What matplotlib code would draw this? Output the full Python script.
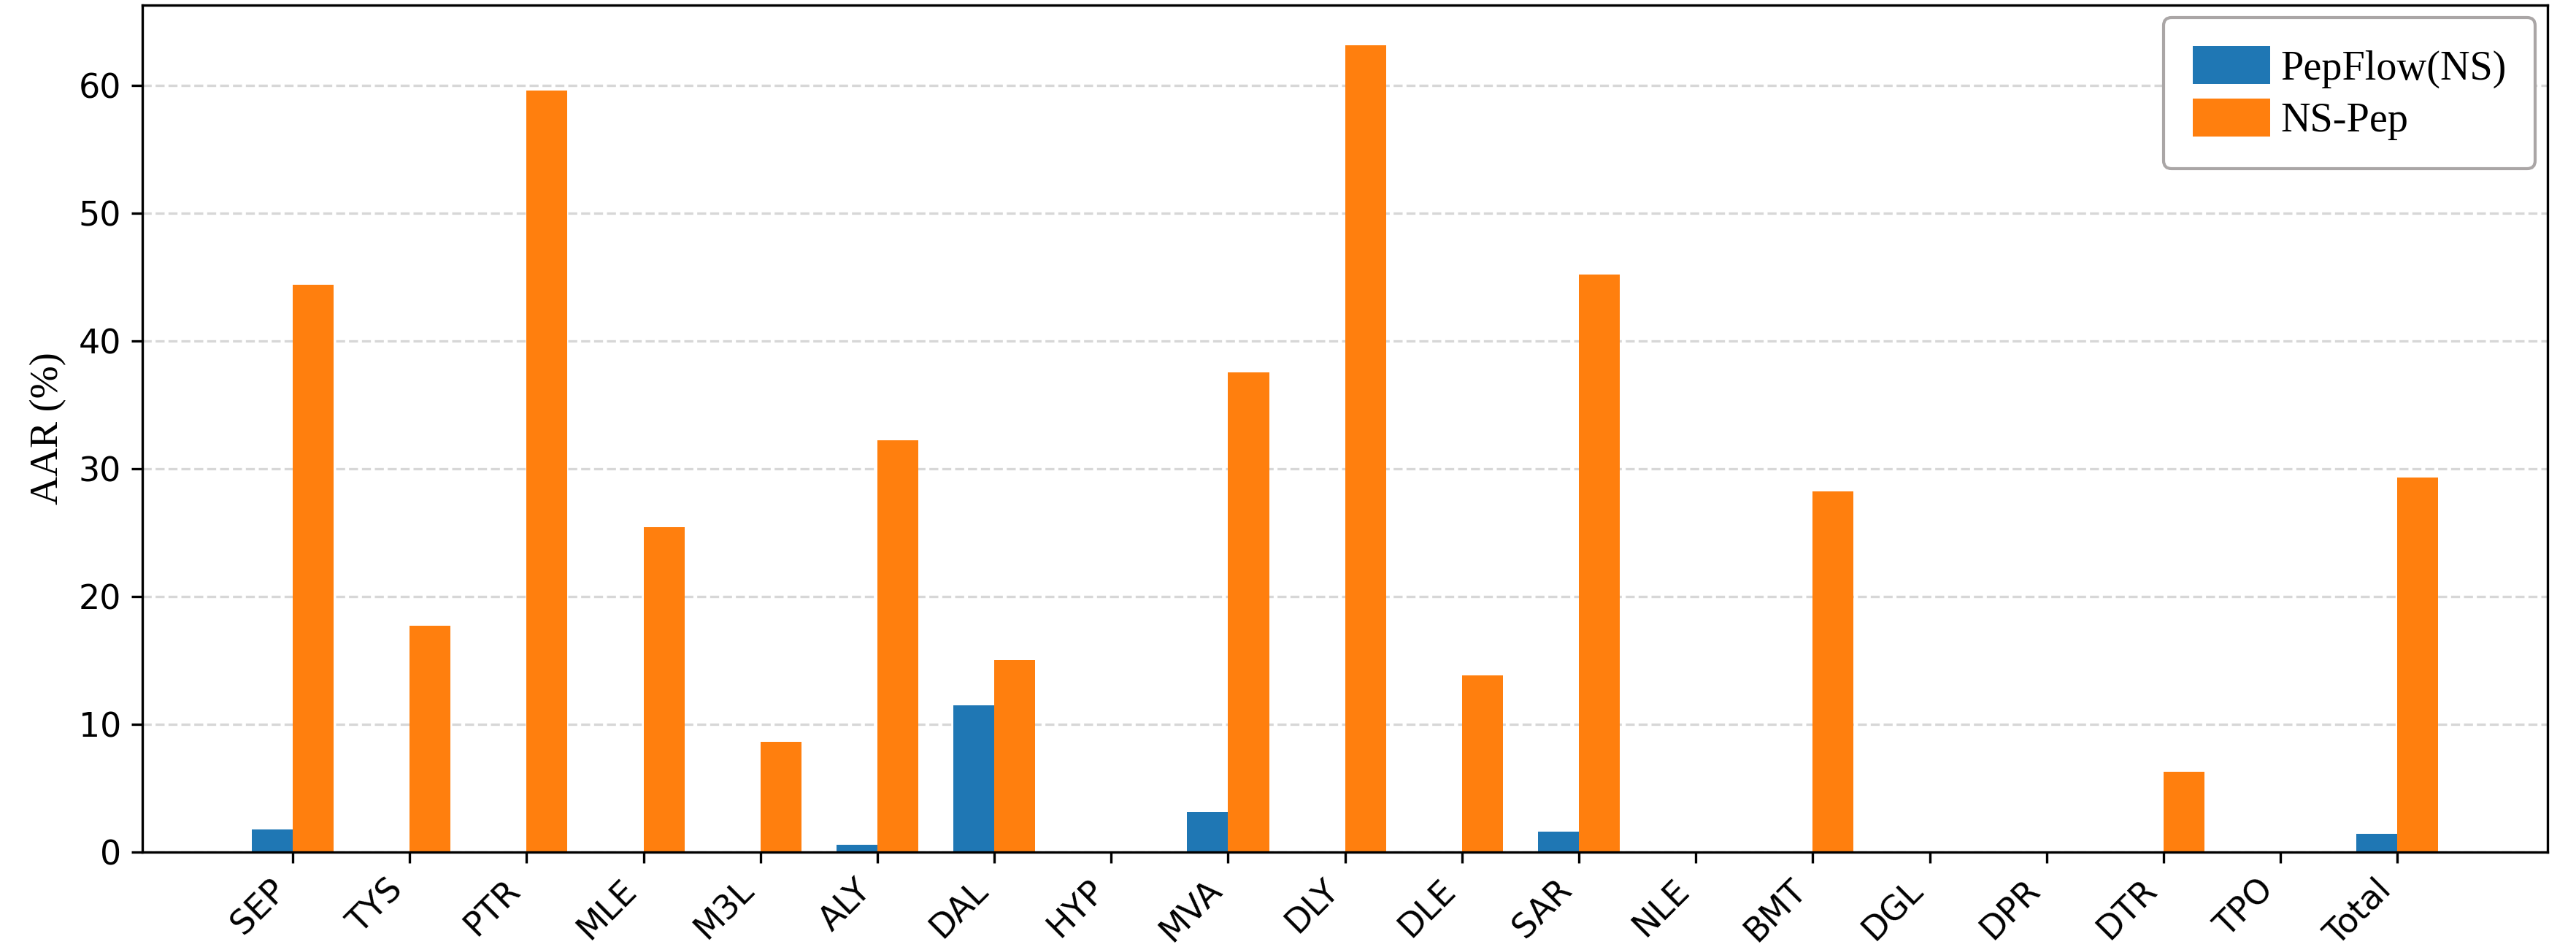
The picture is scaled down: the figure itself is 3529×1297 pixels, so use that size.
import numpy as np
import matplotlib
matplotlib.use('Agg')
import matplotlib.pyplot as plt

# ---------- DATA ----------
residues = ['SEP', 'TYS', 'PTR', 'MLE', 'M3L', 'ALY', 'DAL', 'HYP', 'MVA', 'DLY',
            'DLE', 'SAR', 'NLE', 'BMT', 'DGL', 'DPR', 'DTR', 'TPO', 'Total']
pepflow_ns = [1.75, 0, 0, 0, 0, 0.6, 11.5, 0, 3.15, 0,
              0, 1.6, 0, 0, 0, 0, 0, 0, 1.45]
ns_pep = [44.4, 17.7, 59.6, 25.4, 8.6, 32.2, 15.0, 0, 37.5, 63.1,
          13.8, 45.2, 0, 28.2, 0, 0, 6.3, 0, 29.3]

# ---------- PLOT ----------
fig = plt.figure(figsize=(3529 / 300, 1297 / 300), dpi=300)
ax = fig.add_axes([0.0553, 0.1002, 0.9337, 0.8944])

x = np.arange(len(residues))
w = 0.35
ax.bar(x - w / 2, pepflow_ns, w, color='tab:blue', label='PepFlow(NS)')
ax.bar(x + w / 2, ns_pep, w, color='tab:orange', label='NS-Pep')

ax.set_xticks(x)
ax.set_xticklabels(residues, rotation=45, ha='right', fontsize=11)
ax.tick_params(axis='y', labelsize=11)
ax.set_ylabel('AAR (%)', fontsize=13, family='Liberation Serif')

ax.set_axisbelow(True)
ax.grid(axis='y', linestyle='--', alpha=0.5)

leg = ax.legend(loc='upper right', prop={'family': 'Liberation Serif', 'size': 13.5},
                handlelength=1.9, handleheight=1.05, handletextpad=0.25,
                labelspacing=0.25, borderpad=0.7, borderaxespad=0.3,
                fancybox=True, framealpha=1.0)
leg.get_frame().set_edgecolor('#aaa6a6')
leg.get_frame().set_linewidth(1.0)

plt.savefig('out.png', dpi=300)
